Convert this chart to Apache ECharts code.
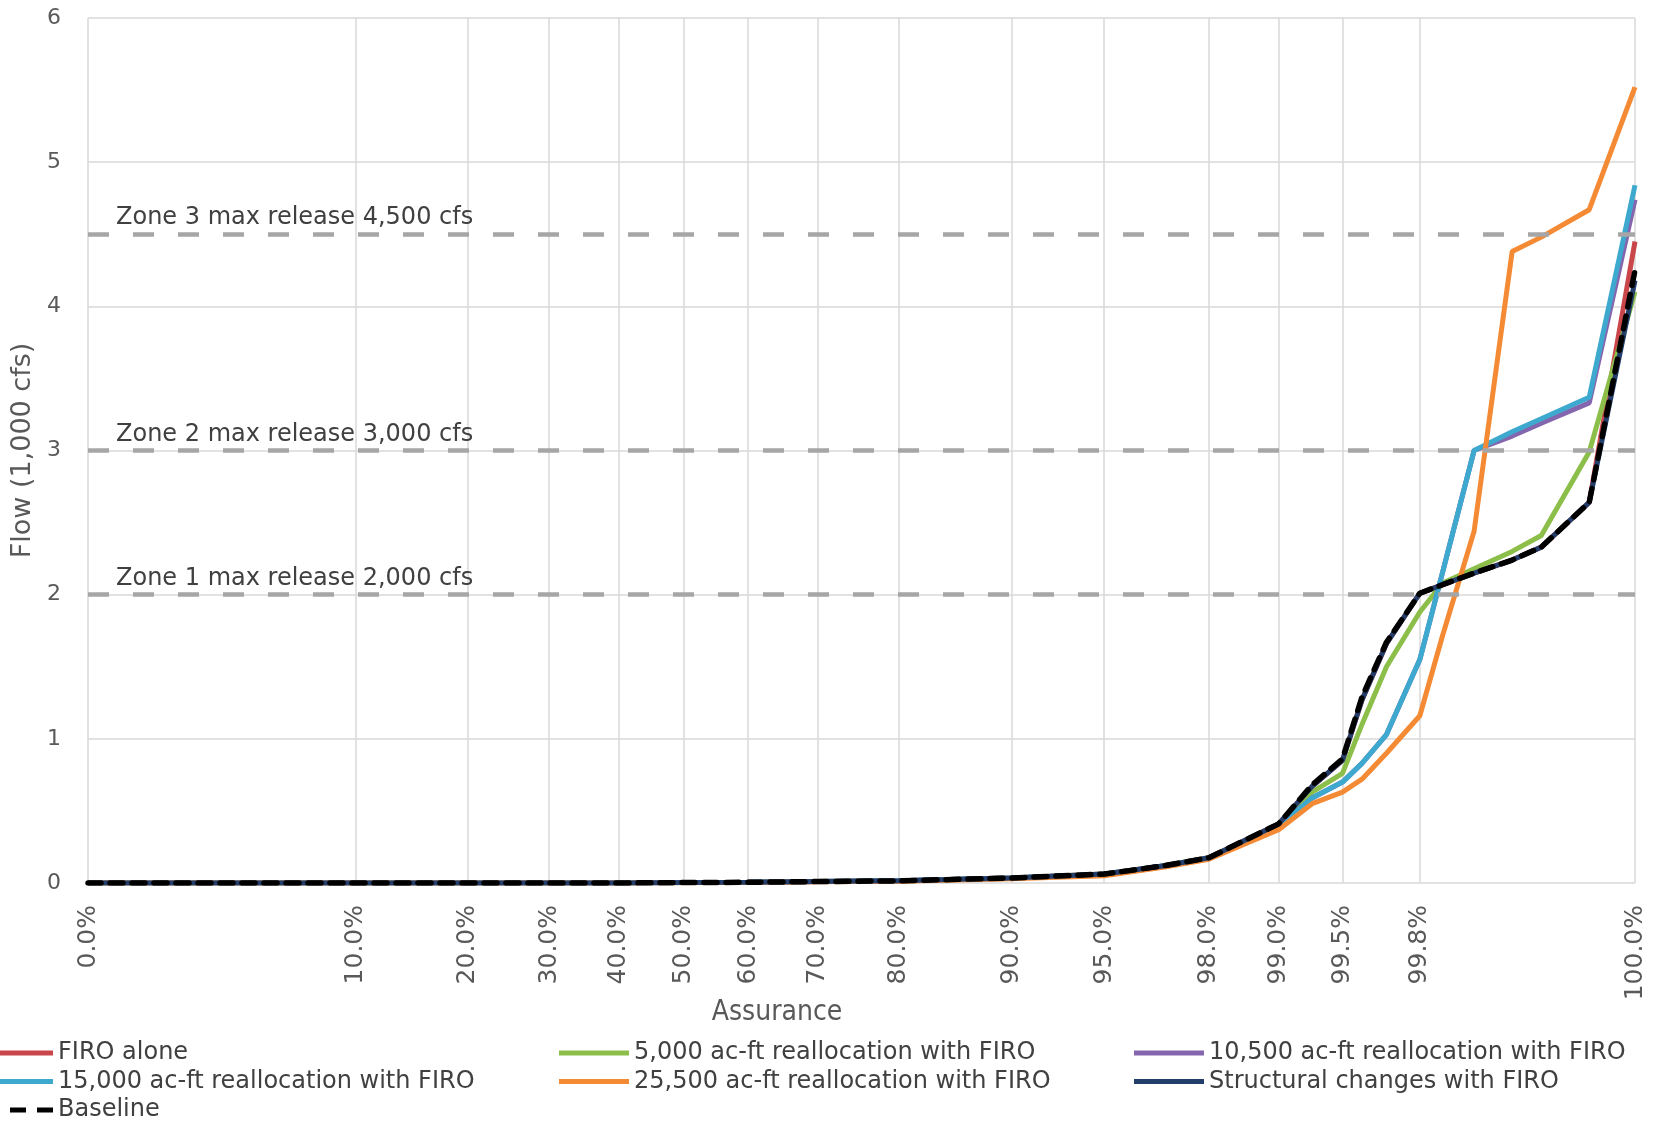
<!DOCTYPE html>
<html>
<head>
<meta charset="utf-8">
<title>Flow vs Assurance</title>
<script src="https://cdn.jsdelivr.net/npm/echarts@6.0.0/dist/echarts.min.js"></script>
<style>
  html, body { margin: 0; padding: 0; background: #fff; }
  #chart { width: 1662px; height: 1121px; }
</style>
</head>
<body>
<div id="chart"></div>
<script>
// assurance (%) of each plotted point, shared by all series
const assurance = [0, 10, 20, 30, 40, 50, 60, 70, 80, 90, 95, 97, 98, 99, 99.3, 99.5, 99.6, 99.7, 99.8, 99.85, 99.9, 99.94, 99.96, 99.98, 100];

// flow (1,000 cfs)
const firoAlone      = [0, 0, 0, 0, 0, 0.003, 0.005, 0.01, 0.015, 0.035, 0.062, 0.12, 0.175, 0.41, 0.67, 0.85, 1.27, 1.66, 2.01, 2.07, 2.15, 2.24, 2.33, 2.64, 4.45];
const realloc5000    = [0, 0, 0, 0, 0, 0.003, 0.005, 0.01, 0.015, 0.035, 0.062, 0.12, 0.175, 0.40, 0.63, 0.76, 1.10, 1.50, 1.88, 2.08, 2.18, 2.30, 2.41, 2.99, 4.10];
const realloc10500   = [0, 0, 0, 0, 0, 0.003, 0.005, 0.01, 0.015, 0.035, 0.060, 0.12, 0.172, 0.39, 0.59, 0.70, 0.83, 1.03, 1.55, 2.16, 3.00, 3.10, 3.19, 3.33, 4.74];
const realloc15000   = [0, 0, 0, 0, 0, 0.003, 0.005, 0.01, 0.015, 0.035, 0.060, 0.12, 0.172, 0.39, 0.59, 0.70, 0.83, 1.03, 1.55, 2.16, 3.00, 3.13, 3.22, 3.37, 4.84];
const realloc25500   = [0, 0, 0, 0, 0, 0.002, 0.004, 0.008, 0.012, 0.03, 0.05, 0.11, 0.165, 0.37, 0.55, 0.63, 0.72, 0.90, 1.16, 1.72, 2.44, 4.38, 4.48, 4.67, 5.52];
const structural     = [0, 0, 0, 0, 0, 0.003, 0.005, 0.01, 0.015, 0.035, 0.062, 0.12, 0.175, 0.41, 0.67, 0.85, 1.27, 1.66, 2.01, 2.07, 2.15, 2.24, 2.33, 2.64, 4.18];
const baseline       = [0, 0, 0, 0, 0, 0.003, 0.005, 0.01, 0.015, 0.035, 0.062, 0.12, 0.175, 0.41, 0.68, 0.86, 1.29, 1.67, 2.01, 2.07, 2.15, 2.24, 2.33, 2.64, 4.25];

// x axis tick positions (%)
const tickPercents = [0, 10, 20, 30, 40, 50, 60, 70, 80, 90, 95, 98, 99, 99.5, 99.8, 100];

// release limits
const zoneValues = [2, 3, 4.5];
const zoneLabels = ['Zone 1 max release 2,000 cfs', 'Zone 2 max release 3,000 cfs', 'Zone 3 max release 4,500 cfs'];

const FONT = '"DejaVu Sans", Verdana, sans-serif';
const FONT_NARROW = '"DejaVu Sans Condensed", "Open Sans", sans-serif';

// inverse normal CDF (normal probability scale)
function probit(p) {
  const a = [-3.969683028665376e+01, 2.209460984245205e+02, -2.759285104469687e+02, 1.383577518672690e+02, -3.066479806614716e+01, 2.506628277459239e+00];
  const b = [-5.447609879822406e+01, 1.615858368580409e+02, -1.556989798598866e+02, 6.680131188771972e+01, -1.328068155288572e+01];
  const c = [-7.784894002430293e-03, -3.223964580411365e-01, -2.400758277161838e+00, -2.549732539343734e+00, 4.374664141464968e+00, 2.938163982698783e+00];
  const d = [7.784695709041462e-03, 3.224671290700398e-01, 2.445134137142996e+00, 3.754408661907416e+00];
  const pl = 0.02425;
  let q, r;
  if (p < pl) {
    q = Math.sqrt(-2 * Math.log(p));
    return (((((c[0] * q + c[1]) * q + c[2]) * q + c[3]) * q + c[4]) * q + c[5]) / ((((d[0] * q + d[1]) * q + d[2]) * q + d[3]) * q + 1);
  }
  if (p > 1 - pl) {
    q = Math.sqrt(-2 * Math.log(1 - p));
    return -(((((c[0] * q + c[1]) * q + c[2]) * q + c[3]) * q + c[4]) * q + c[5]) / ((((d[0] * q + d[1]) * q + d[2]) * q + d[3]) * q + 1);
  }
  q = p - 0.5;
  r = q * q;
  return (((((a[0] * r + a[1]) * r + a[2]) * r + a[3]) * r + a[4]) * r + a[5]) * q / (((((b[0] * r + b[1]) * r + b[2]) * r + b[3]) * r + b[4]) * r + 1);
}

const X_MIN = probit(0.01);
const X_MAX = probit(0.9999);
function toX(pct) {
  if (pct <= 0) return X_MIN;
  if (pct >= 100) return X_MAX;
  return Math.max(X_MIN, Math.min(X_MAX, probit(pct / 100)));
}
const tickX = tickPercents.map(toX);

function pairs(values) {
  return assurance.map((p, i) => [toX(p), values[i]]);
}

function lineSeries(name, values, color, extra) {
  return Object.assign({
    name: name,
    type: 'line',
    symbol: 'none',
    color: color,
    lineStyle: { width: 5, color: color },
    data: pairs(values)
  }, extra || {});
}

const chart = echarts.init(document.getElementById('chart'));

const dashIcon = 'path://M0,0H16V5H0Z M27,0H43V5H27Z M54,0H70V5H54Z';

const legendBase = {
  orient: 'vertical',
  top: 1041,
  height: 140,
  padding: 0,
  icon: 'rect',
  itemWidth: 70,
  itemHeight: 5,
  itemGap: 4.5,
  textStyle: { fontFamily: FONT, fontSize: 24, lineHeight: 24, color: '#404040' }
};

const option = {
  animation: false,
  backgroundColor: '#fff',
  grid: { left: 88, right: 27, top: 18, bottom: 238 },
  xAxis: {
    type: 'value',
    min: X_MIN,
    max: X_MAX,
    axisLine: { show: false },
    axisTick: { show: false, customValues: tickX },
    axisLabel: {
      customValues: tickX,
      rotate: 90,
      margin: 22,
      fontFamily: FONT,
      fontSize: 25,
      color: '#595959',
      formatter: function (val) {
        for (let i = 0; i < tickX.length; i++) {
          if (Math.abs(tickX[i] - val) < 1e-6) return tickPercents[i].toFixed(1) + '%';
        }
        return '';
      }
    },
    splitLine: { show: true, lineStyle: { color: '#d9d9d9', width: 1.5 } }
  },
  yAxis: {
    type: 'value',
    min: 0,
    max: 6,
    interval: 1,
    name: 'Flow (1,000 cfs)',
    nameLocation: 'middle',
    nameGap: 38,
    nameTextStyle: { fontFamily: FONT, fontSize: 27, color: '#595959' },
    axisLine: { show: false },
    axisTick: { show: false },
    axisLabel: { margin: 27, fontFamily: FONT, fontSize: 22, color: '#595959' },
    splitLine: { lineStyle: { color: '#d9d9d9', width: 1.5 } }
  },
  legend: [
    Object.assign({}, legendBase, {
      left: -17,
      data: ['FIRO alone', '15,000 ac-ft reallocation with FIRO', { name: 'Baseline', icon: dashIcon }]
    }),
    Object.assign({}, legendBase, {
      left: 559,
      data: ['5,000 ac-ft reallocation with FIRO', '25,500 ac-ft reallocation with FIRO']
    }),
    Object.assign({}, legendBase, {
      left: 1134,
      data: ['10,500 ac-ft reallocation with FIRO', 'Structural changes with FIRO']
    })
  ],
  graphic: [{
    type: 'text',
    x: 777,
    y: 1013,
    style: {
      text: 'Assurance',
      font: '28px ' + FONT_NARROW,
      fill: '#595959',
      align: 'center',
      verticalAlign: 'middle'
    }
  }],
  series: [
    {
      name: 'zones',
      type: 'line',
      data: [],
      silent: true,
      markLine: {
        silent: true,
        symbol: 'none',
        lineStyle: { color: '#a6a6a6', width: 4.5, type: [21, 24] },
        label: {
          position: 'insideStartTop',
          distance: [28, 4],
          fontFamily: FONT,
          fontSize: 24,
          color: '#404040'
        },
        data: zoneValues.map((v, i) => ({ yAxis: v, label: { formatter: zoneLabels[i] } }))
      }
    },
    lineSeries('FIRO alone', firoAlone, '#c9474a'),
    lineSeries('5,000 ac-ft reallocation with FIRO', realloc5000, '#8cbe4a'),
    lineSeries('10,500 ac-ft reallocation with FIRO', realloc10500, '#8466ae'),
    lineSeries('15,000 ac-ft reallocation with FIRO', realloc15000, '#3ea9cf'),
    lineSeries('25,500 ac-ft reallocation with FIRO', realloc25500, '#f58a35'),
    lineSeries('Structural changes with FIRO', structural, '#233e6b'),
    lineSeries('Baseline', baseline, '#000', {
      lineStyle: { width: 5.5, color: '#000', type: [13, 9], cap: 'round' }
    })
  ]
};

chart.setOption(option);
</script>
</body>
</html>
